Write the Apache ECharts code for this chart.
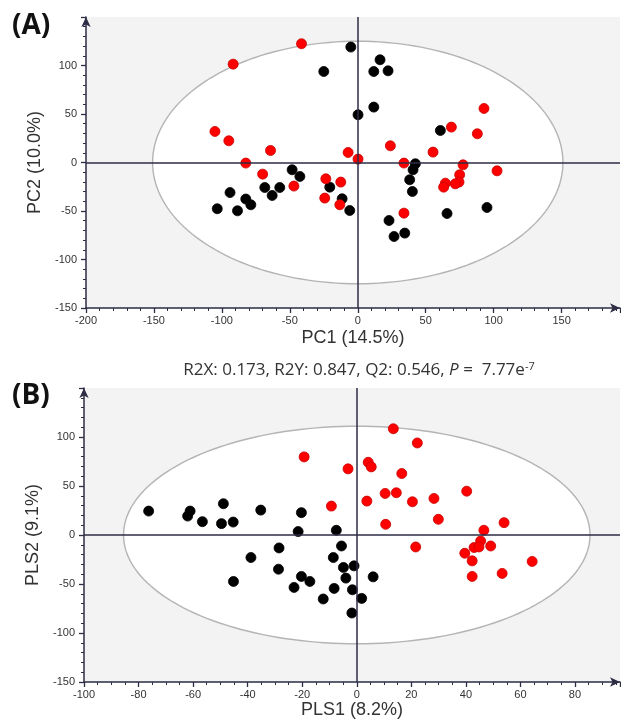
<!DOCTYPE html>
<html><head><meta charset="utf-8">
<script src="https://cdn.jsdelivr.net/npm/echarts/dist/echarts.min.js"></script>
<style>html,body{margin:0;padding:0;background:#fff}#c{width:621px;height:719px}</style>
</head><body><div id="c"></div>
<script>
// ---- Data ----
const pcaBlack = [[-48.3,-7.5],[-42.6,-14.4],[-94,-31],[-103.4,-47.7],[-88.5,-49.8],[-82.4,-37.7],[-78.7,-43.6],[-68.4,-25.8],[-63,-34],[-57.4,-25.8],[-5.1,119],[-25,93.8],[16.4,105.9],[11.8,93.8],[22.3,94.5],[11.8,57.1],[0.2,49.2],[60.8,33],[42.4,-1.3],[40.7,-7.5],[38.2,-17.8],[40.2,-29.9],[-20.6,-25.4],[-11.5,-37.4],[-5.9,-49.5],[23,-59.8],[26.7,-76.3],[34.6,-72.8],[65.7,-52.6],[95.1,-46.4]];
const pcaRed = [[-91.7,101.4],[-41.4,122.4],[-105.1,32],[-94.9,22.4],[-64.2,12.4],[-82.4,-0.6],[-70,-12],[-47,-24.3],[92.9,55.7],[68.9,36.5],[88,29.6],[24,17.2],[-7.1,10.3],[0.2,3.5],[55.4,10.7],[34,-0.6],[77.5,-2.4],[102.5,-8.6],[75,-12.7],[74.5,-20.2],[71.8,-22],[64.5,-21.3],[63.2,-25.4],[-23.5,-16.8],[-12.5,-20.2],[-24.3,-36.7],[-13.2,-43.6],[34,-52.2]];
const plsBlack = [[-76.3,24.4],[-61.1,24.4],[-62,19.3],[-56.6,13.6],[-48.9,31.9],[-49.6,11.6],[-45.3,13.2],[-35.2,25.4],[-20.3,22.8],[-21.5,3.5],[-28.5,-13.2],[-38.8,-23],[-28.7,-34.9],[-45.2,-47.4],[-20.3,-42.3],[-17.2,-47.4],[-23,-53.5],[-7.5,4.8],[-5.6,-11.2],[-8.6,-23],[-4.9,-33.1],[-1,-31.5],[-4,-44],[6,-42.7],[-8.3,-54.5],[-1.6,-55.9],[1.8,-64.7],[-12.3,-65.3],[-1.8,-79.6]];
const plsRed = [[-19.3,79.7],[13.4,108.4],[22.2,93.9],[-3.2,67.5],[4.2,74.2],[5.3,69.5],[16.5,62.7],[10.4,42.4],[14.5,43.1],[3.7,34.6],[20.4,33.9],[28.3,37.3],[40.3,44.7],[-9.3,29.5],[29.9,16],[10.6,10.9],[54,12.6],[46.6,4.8],[45.4,-6.1],[43,-12.8],[44.8,-12.2],[49.1,-11.2],[21.6,-12.2],[39.6,-18.6],[42.3,-26.4],[64.3,-27],[42.3,-42.3],[53.3,-39.2]];
// Hotelling ellipses: centre and semi-axes
const ellipseA = {center:[0,0], radii:[151,125]};
const ellipseB = {center:[0,0], radii:[85.5,111]};
// axis ranges / ticks
const axisA = {x:{min:-200,max:193,interval:50}, y:{min:-150,max:150,interval:50}};
const axisB = {x:{min:-100,max:96.5,interval:20}, y:{min:-150,max:150,interval:50}};
const names = {ax:'PC1 (14.5%)', ay:'PC2 (10.0%)', bx:'PLS1 (8.2%)', by:'PLS2 (9.1%)'};
const statText = 'R2X: 0.173, R2Y: 0.847, Q2: 0.546, {i|P} =  7.77e{s|-7}';

const AX = '#2d2d45';
function axis(gi, r, minorSplit, name, nameGap, isY){
  return {
    type:'value', gridIndex:gi, min:r.min, max:r.max, interval:r.interval,
    name:name, nameLocation:'middle', nameGap:nameGap,
    nameTextStyle:{color:'#333', fontSize:18, fontFamily:'Liberation Sans, Arial'},
    axisLine:{show:true, onZero:false, symbol:['none','arrow'], symbolSize:[7,10], lineStyle:{color:AX, width:1.5}},
    axisTick:{show:true, inside:false, length:5, lineStyle:{color:AX, width:1.3}},
    minorTick:{show:true, splitNumber:minorSplit, length:3, lineStyle:{color:AX, width:1}},
    splitLine:{show:false}, minorSplitLine:{show:false},
    axisLabel:{color:'#333', fontSize:11, fontFamily:'Liberation Sans, Arial', margin:isY?9:7, showMaxLabel:false, showMinLabel:true}
  };
}
function ellipseSeries(idx, e){
  return {
    type:'custom', xAxisIndex:idx, yAxisIndex:idx, z:1, silent:true,
    data:[e.center],
    renderItem:function(params, api){
      const pts=[]; const N=180;
      for(let k=0;k<N;k++){
        const t=2*Math.PI*k/N;
        pts.push(api.coord([e.center[0]+e.radii[0]*Math.cos(t), e.center[1]+e.radii[1]*Math.sin(t)]));
      }
      return {type:'polygon', shape:{points:pts}, style:{fill:'#ffffff', stroke:'#b4b4b4', lineWidth:1.4}};
    }
  };
}
function crossSeries(idx){
  return {
    type:'scatter', xAxisIndex:idx, yAxisIndex:idx, z:2, data:[], silent:true,
    markLine:{silent:true, symbol:['none','none'], animation:false, label:{show:false},
      lineStyle:{color:AX, width:1.5, type:'solid'},
      data:[{xAxis:0},{yAxis:0}]}
  };
}
function pts(idx, data, color, border){
  return {type:'scatter', xAxisIndex:idx, yAxisIndex:idx, z:3, data:data, symbol:'circle', symbolSize:10,
    itemStyle:{color:color, borderColor:border, borderWidth:0.8, opacity:1}};
}

const chart = echarts.init(document.getElementById('c'), null, {renderer:'canvas'});
chart.setOption({
  animation:false,
  backgroundColor:'#ffffff',
  grid:[
    {left:86, right:1, top:17, height:291, show:true, backgroundColor:'#f3f3f3', borderWidth:0, containLabel:false, outerBoundsMode:'none'},
    {left:84, right:1, top:388, height:294, show:true, backgroundColor:'#f3f3f3', borderWidth:0, containLabel:false, outerBoundsMode:'none'}
  ],
  xAxis:[ axis(0, axisA.x, 5, names.ax, 21, false), axis(1, axisB.x, 4, names.bx, 19, false) ],
  yAxis:[ axis(0, axisA.y, 5, names.ay, 33, true), axis(1, axisB.y, 5, names.by, 35, true) ],
  graphic:[
    {type:'text', left:12, top:12, style:{text:'(A)', font:'bold 28px "Open Sans", "Noto Sans", sans-serif', fill:'#111'}},
    {type:'text', left:12, top:382, style:{text:'(B)', font:'bold 28px "Open Sans", "Noto Sans", sans-serif', fill:'#111'}},
    {type:'text', x:359, y:370, style:{text:statText, fill:'#333', align:'center', verticalAlign:'middle',
      font:'17px "Open Sans", sans-serif',
      rich:{
        i:{fontStyle:'italic', fontSize:17, fontFamily:'Open Sans', fill:'#333'},
        s:{fontSize:11, fontFamily:'Open Sans', fill:'#333', verticalAlign:'top', padding:[0,0,7,0]}
      }}}
  ],
  series:[
    ellipseSeries(0, ellipseA), crossSeries(0), pts(0, pcaBlack, '#000000', '#000000'), pts(0, pcaRed, '#ff0000', '#c80000'),
    ellipseSeries(1, ellipseB), crossSeries(1), pts(1, plsBlack, '#000000', '#000000'), pts(1, plsRed, '#ff0000', '#c80000')
  ]
});
</script></body></html>
